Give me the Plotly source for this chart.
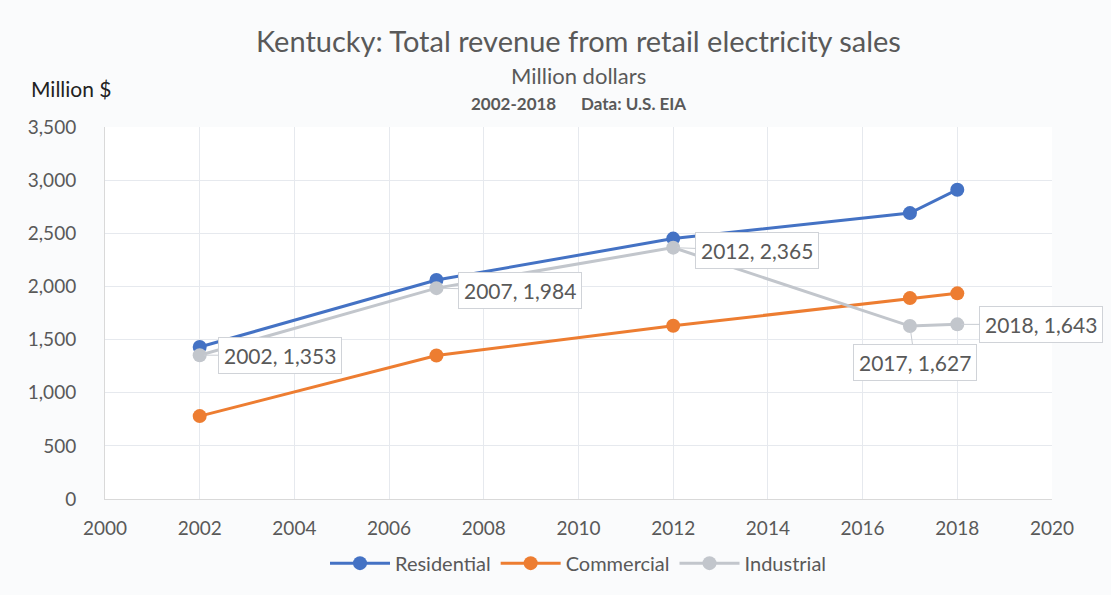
import plotly.graph_objects as go

years = [2002, 2007, 2012, 2017, 2018]
residential = [1430, 2060, 2450, 2690, 2910]
commercial = [780, 1350, 1630, 1890, 1935]
industrial = [1353, 1984, 2365, 1627, 1643]

series = [
    ("Residential", residential, "#4472C4"),
    ("Commercial", commercial, "#ED7D31"),
    ("Industrial", industrial, "#C2C6CC"),
]

FONT = "Lato"
GRAY = "#595959"

fig = go.Figure()
for name, vals, color in series:
    fig.add_trace(go.Scatter(
        x=years, y=vals, name=name, mode="lines+markers",
        line=dict(color=color, width=3),
        marker=dict(color=color, size=14),
    ))

# Data labels on the industrial series, offset (ax, ay) in pixels with a thin leader line
label_offsets = [(80, 0), (84, 2), (84, 3), (5, 36), (84, 0)]
for yr, val, (dx, dy) in zip(years, industrial, label_offsets):
    fig.add_annotation(
        x=yr, y=val, text=f"{yr}, {val:,}",
        showarrow=True, arrowhead=0, arrowwidth=1, arrowcolor="#C8CCD2",
        ax=dx, ay=dy, standoff=4,
        font=dict(family=FONT, size=21, color=GRAY),
        bgcolor="white", bordercolor="#D0D3D8", borderwidth=1, borderpad=5,
    )

# Header texts, positioned by their vertical centre above the plot area
headers = [
    ("Kentucky: Total revenue from retail electricity sales", 29, GRAY, 87, 0.5, "center", 0),
    ("Million dollars", 22, GRAY, 52, 0.5, "center", 0),
    ("<b>2002-2018      Data: U.S. EIA</b>", 17, GRAY, 24, 0.5, "center", 0),
    ("Million $", 21, "#222222", 39, 0, "left", -76),
]
for text, size, color, dy, x, xanchor, dx in headers:
    fig.add_annotation(x=x, y=1, xref="paper", yref="paper", xanchor=xanchor,
                       yanchor="middle", xshift=dx, yshift=dy, showarrow=False,
                       text=text, font=dict(family=FONT, size=size, color=color))

fig.update_layout(
    width=1111, height=595,
    margin=dict(l=105, r=59, t=127, b=96),
    paper_bgcolor="#FAFBFC", plot_bgcolor="white",
    font=dict(family=FONT, size=19, color=GRAY),
    showlegend=True,
    legend=dict(orientation="h", x=0.5, xanchor="center", y=-0.12, yanchor="top",
                font=dict(family=FONT, size=20, color=GRAY), itemwidth=60,
                bgcolor="rgba(0,0,0,0)"),
)
fig.update_xaxes(range=[2000, 2020], dtick=2, tick0=2000, showgrid=True,
                 gridcolor="#E6E9EE", zeroline=False, showline=True,
                 linecolor="#D9D9D9", ticks="outside", ticklen=12,
                 tickcolor="rgba(0,0,0,0)", tickfont=dict(size=19, color=GRAY))
fig.update_yaxes(range=[0, 3500], dtick=500, tickformat=",", showgrid=True,
                 gridcolor="#E6E9EE", zeroline=False, showline=True,
                 linecolor="#D9D9D9", ticks="outside", ticklen=24,
                 tickcolor="rgba(0,0,0,0)", tickfont=dict(size=19, color=GRAY))

fig.write_html("out.html")
